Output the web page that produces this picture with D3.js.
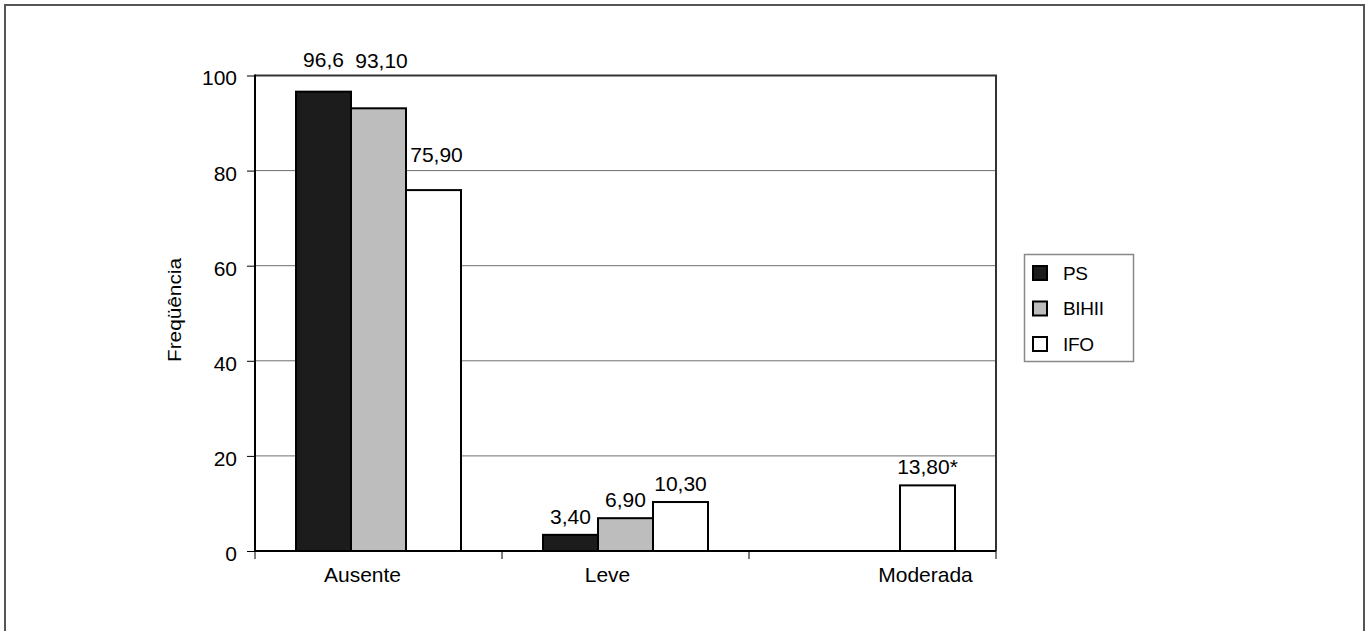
<!DOCTYPE html>
<html>
<head>
<meta charset="utf-8">
<script src="https://cdn.jsdelivr.net/npm/d3@7/dist/d3.min.js"></script>
<style>
  html, body { margin: 0; padding: 0; background: #fff; }
  svg { display: block; }
  text { font-family: "Liberation Sans", Arial, Helvetica, sans-serif; fill: #000; }
</style>
</head>
<body>
<svg id="chart" width="1366" height="631"></svg>
<script>
// Severity categories and the three groups compared
const categories = ["Ausente", "Leve", "Moderada"];
const seriesNames = ["PS", "BIHII", "IFO"];
const seriesColors = ["#1c1c1c", "#bdbdbd", "#ffffff"];

// Frequency (%) per category, one array per group (null = no bar)
const psValues    = [96.6, 3.4, null];
const bihiiValues = [93.1, 6.9, null];
const ifoValues   = [75.9, 10.3, 13.8];

// Value labels as printed above the bars
const psLabels    = ["96,6", "3,40", null];
const bihiiLabels = ["93,10", "6,90", null];
const ifoLabels   = ["75,90", "10,30", "13,80*"];

const yTicks = [0, 20, 40, 60, 80, 100];
const yTitle = "Freqüência";

const seriesValues = [psValues, bihiiValues, ifoValues];
const seriesLabels = [psLabels, bihiiLabels, ifoLabels];

const svg = d3.select("#chart");
const plot = { left: 255, right: 996, top: 75.5, bottom: 551 };

// Outer chart border
svg.append("rect")
  .attr("x", 5).attr("y", 5).attr("width", 1359).attr("height", 720)
  .attr("fill", "none").attr("stroke", "#555").attr("stroke-width", 2);

const x0 = d3.scaleBand().domain(categories).range([plot.left, plot.right]).padding(0);
const groupWidth = x0.bandwidth() * 0.668;
const x1 = d3.scaleBand().domain(seriesNames)
  .range([(x0.bandwidth() - groupWidth) / 2, (x0.bandwidth() + groupWidth) / 2]).padding(0);
const y = d3.scaleLinear().domain([0, 100]).range([plot.bottom, plot.top]);

// Horizontal gridlines
svg.append("g").selectAll("line")
  .data(yTicks.filter(t => t > 0 && t < 100))
  .join("line")
  .attr("x1", plot.left).attr("x2", plot.right)
  .attr("y1", d => y(d)).attr("y2", d => y(d))
  .attr("stroke", "#6e6e6e").attr("stroke-width", 1);

// Plot frame (top and right)
svg.append("path")
  .attr("d", `M${plot.left},${y(100)}H${plot.right}V${plot.bottom}`)
  .attr("fill", "none").attr("stroke", "#333").attr("stroke-width", 2);

// Bars
const bars = [];
seriesNames.forEach((s, si) => {
  categories.forEach((c, ci) => {
    const v = seriesValues[si][ci];
    if (v != null) bars.push({ s, si, c, v, label: seriesLabels[si][ci] });
  });
});

svg.append("g").selectAll("rect")
  .data(bars)
  .join("rect")
  .attr("x", d => x0(d.c) + x1(d.s))
  .attr("y", d => y(d.v))
  .attr("width", x1.bandwidth())
  .attr("height", d => y(0) - y(d.v))
  .attr("fill", d => seriesColors[d.si])
  .attr("stroke", "#000").attr("stroke-width", 2);

// Value labels; a few are lifted clear of the neighbouring bars
const labelLift = { "96,6": 14, "93,10": 29, "75,90": 17 };
const labelShift = { "93,10": 3, "75,90": 3 };
svg.append("g").selectAll("text")
  .data(bars)
  .join("text")
  .attr("x", d => x0(d.c) + x1(d.s) + x1.bandwidth() / 2 + (labelShift[d.label] || 0))
  .attr("y", d => y(d.v) - 11 - (labelLift[d.label] || 0))
  .attr("text-anchor", "middle")
  .attr("font-size", 21)
  .text(d => d.label);

// Y axis
const yAxis = svg.append("g")
  .attr("transform", `translate(${plot.left},0)`)
  .call(d3.axisLeft(y).tickValues(yTicks).tickSize(8).tickPadding(10).tickFormat(d3.format("d")));
yAxis.select(".domain").remove();
yAxis.selectAll(".tick line").attr("stroke", "#000").attr("stroke-width", 1);
yAxis.selectAll(".tick text")
  .attr("font-size", 21).attr("font-family", "Liberation Sans, Arial, sans-serif")
  .attr("dy", "0.45em");
svg.append("line")
  .attr("x1", plot.left).attr("x2", plot.left)
  .attr("y1", y(100) - 1).attr("y2", plot.bottom)
  .attr("stroke", "#000").attr("stroke-width", 2);

// X axis: baseline, boundary ticks between categories, category names
svg.append("line")
  .attr("x1", plot.left).attr("x2", plot.right)
  .attr("y1", plot.bottom).attr("y2", plot.bottom)
  .attr("stroke", "#000").attr("stroke-width", 2);
const boundaries = categories.map(c => x0(c)).concat([x0(categories[categories.length - 1]) + x0.bandwidth()]);
svg.append("g").selectAll("line")
  .data(boundaries)
  .join("line")
  .attr("x1", d => d).attr("x2", d => d)
  .attr("y1", plot.bottom).attr("y2", plot.bottom + 8)
  .attr("stroke", "#000").attr("stroke-width", 1);
const catShift = { "Ausente": -16, "Leve": -18, "Moderada": 53 };
svg.append("g").selectAll("text")
  .data(categories)
  .join("text")
  .attr("x", d => x0(d) + x0.bandwidth() / 2 + catShift[d])
  .attr("y", 582)
  .attr("text-anchor", "middle")
  .attr("font-size", 21)
  .text(d => d);

// Y axis title
svg.append("text")
  .attr("transform", "translate(181,310) rotate(-90)")
  .attr("text-anchor", "middle")
  .attr("font-size", 18)
  .attr("textLength", 104).attr("lengthAdjust", "spacingAndGlyphs")
  .text(yTitle);

// Legend
const legend = svg.append("g");
legend.append("rect")
  .attr("x", 1024.5).attr("y", 254.5).attr("width", 109).attr("height", 107)
  .attr("fill", "#fff").attr("stroke", "#888").attr("stroke-width", 1.5);
const ly = d3.scalePoint().domain(seriesNames).range([273, 344]);
const items = legend.selectAll("g.item").data(seriesNames).join("g").attr("class", "item");
items.append("rect")
  .attr("x", 1033).attr("y", d => ly(d) - 7)
  .attr("width", 14).attr("height", 14)
  .attr("fill", (d, i) => seriesColors[i])
  .attr("stroke", "#000").attr("stroke-width", 2);
items.append("text")
  .attr("x", 1063).attr("y", d => ly(d) + 6.5)
  .attr("font-size", 19)
  .attr("letter-spacing", -0.3)
  .text(d => d);
</script>
</body>
</html>
